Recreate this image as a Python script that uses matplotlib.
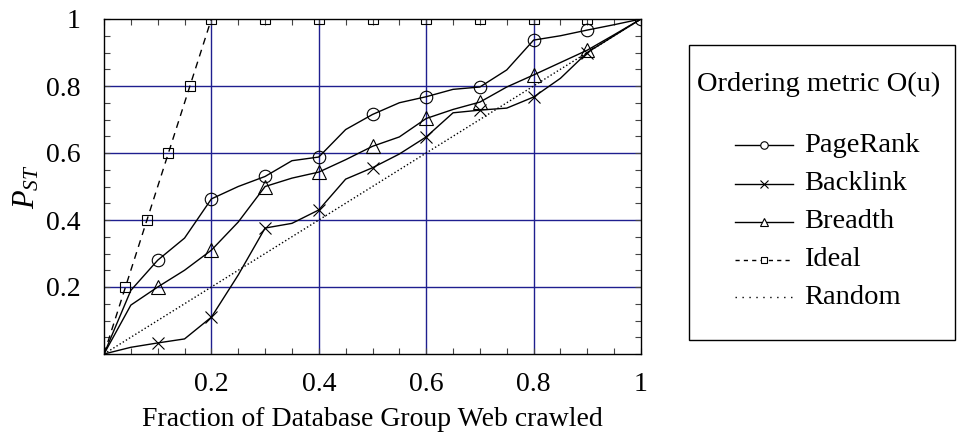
import matplotlib.pyplot as plt
from matplotlib.ticker import MultipleLocator, FixedLocator
from matplotlib.lines import Line2D
from matplotlib.patches import Rectangle

plt.rcParams['font.family'] = ['Liberation Serif', 'DejaVu Serif']
plt.rcParams['mathtext.fontset'] = 'custom'
plt.rcParams['mathtext.it'] = 'Liberation Serif:italic'
plt.rcParams['mathtext.rm'] = 'Liberation Serif'

# fraction of pages crawled (vertices every 0.05, markers every 0.1)
x_half = [0, 0.05, 0.1, 0.15, 0.2, 0.25, 0.3, 0.35, 0.4, 0.45, 0.5,
          0.55, 0.6, 0.65, 0.7, 0.75, 0.8, 0.85, 0.9, 0.95, 1.0]

pagerank = [0, 0.19, 0.28, 0.346, 0.463, 0.50, 0.53, 0.577, 0.588, 0.67, 0.715,
            0.75, 0.768, 0.79, 0.797, 0.848, 0.937, 0.95, 0.967, 0.983, 1.0]
backlink = [0, 0.02, 0.033, 0.045, 0.11, 0.236, 0.376, 0.39, 0.43, 0.522, 0.556,
            0.597, 0.648, 0.72, 0.728, 0.734, 0.767, 0.823, 0.90, 0.95, 1.0]
breadth = [0, 0.146, 0.2, 0.25, 0.31, 0.394, 0.50, 0.525, 0.543, 0.58, 0.62,
           0.648, 0.703, 0.73, 0.752, 0.797, 0.833, 0.87, 0.907, 0.953, 1.0]

ideal_x = [0, 0.04, 0.08, 0.12, 0.16, 0.2, 0.3, 0.4, 0.5, 0.6, 0.7, 0.8, 0.9]
ideal_y = [0, 0.2, 0.4, 0.6, 0.8, 1.0, 1.0, 1.0, 1.0, 1.0, 1.0, 1.0, 1.0]

random_x = [0, 1]
random_y = [0, 1]

series_names = ['PageRank', 'Backlink', 'Breadth', 'Ideal', 'Random']

W, H = 957, 441
fig = plt.figure(figsize=(W / 100, H / 100), dpi=100)
ax = fig.add_axes([104 / W, 1 - 354 / H, 537 / W, 335 / H])

grid_blue = '#1f1f8f'
for g in [0.2, 0.4, 0.6, 0.8]:
    ax.axhline(g, color=grid_blue, lw=1.0, zorder=1)
    ax.axvline(g, color=grid_blue, lw=1.0, zorder=1)

styles = {
    'PageRank': dict(ls='-', marker='o', ms=9),
    'Backlink': dict(ls='-', marker='x', ms=9),
    'Breadth': dict(ls='-', marker='^', ms=10),
    'Ideal': dict(ls='--', marker='s', ms=7),
    'Random': dict(ls=':', marker=None, ms=0),
}

def draw(x, y, name, markevery):
    st = styles[name]
    kw = dict(color='black', lw=1.0, zorder=3)
    if st['marker']:
        kw.update(marker=st['marker'], markevery=markevery, markersize=st['ms'],
                  markerfacecolor='none', markeredgecolor='black', markeredgewidth=0.8)
    line, = ax.plot(x, y, linestyle=st['ls'], **kw)
    if st['ls'] == '--':
        line.set_dashes((5, 4))
    return line

draw(x_half, pagerank, 'PageRank', list(range(2, 21, 2)))
draw(x_half, backlink, 'Backlink', list(range(2, 19, 2)))
draw(x_half, breadth, 'Breadth', list(range(2, 19, 2)))
draw(ideal_x, ideal_y, 'Ideal', list(range(1, len(ideal_x))))
draw(random_x, random_y, 'Random', None)

ax.set_xlim(0, 1)
ax.set_ylim(0, 1)
ax.xaxis.set_major_locator(FixedLocator([0.2, 0.4, 0.6, 0.8, 1.0]))
ax.yaxis.set_major_locator(FixedLocator([0.2, 0.4, 0.6, 0.8, 1.0]))
ax.set_xticklabels(['0.2', '0.4', '0.6', '0.8', '1'])
ax.set_yticklabels(['0.2', '0.4', '0.6', '0.8', '1'])
ax.xaxis.set_minor_locator(MultipleLocator(0.05))
ax.yaxis.set_minor_locator(MultipleLocator(0.05))
ax.tick_params(which='both', direction='in', top=True, right=True, labelsize=20,
               length=4, width=0.8, color='#444444')
ax.tick_params(axis='x', pad=13)
ax.tick_params(axis='y', pad=17)
for s in ax.spines.values():
    s.set_linewidth(1.0)
    s.set_zorder(4)

ax.set_xlabel('Fraction of Database Group Web crawled', fontsize=20, labelpad=7)
ax.set_ylabel(r'$P_{ST}$', fontsize=22, labelpad=3)

# legend box drawn in pixel coordinates of the figure
def px(x, y):
    return x / W, 1 - y / H

x0, y0 = px(689, 340)
x1, y1 = px(955, 45)
fig.patches.append(Rectangle((x0, y0), x1 - x0, y1 - y0, transform=fig.transFigure,
                             fill=False, edgecolor='black', lw=1.0))
tx, ty = px(697, 84)
fig.text(tx, ty, 'Ordering metric O(u)', fontsize=20.5, ha='left', va='center')

row_y = [145, 184, 222, 260, 297]
for name, ry in zip(series_names, row_y):
    st = styles[name]
    ax_x0, yy = px(735, ry)
    ax_x1, _ = px(793, ry)
    h = Line2D([ax_x0, ax_x1], [yy, yy], transform=fig.transFigure, color='black', lw=1.0,
               linestyle=st['ls'])
    if st['ls'] == '--':
        h.set_dashes((3, 3))
    elif st['ls'] == ':':
        h.set_dashes((1, 4))
    fig.lines.append(h)
    if st['marker']:
        mx, _ = px(764, ry)
        fig.lines.append(Line2D([mx], [yy], transform=fig.transFigure, marker=st['marker'],
                                markersize=st['ms'] * 0.6, markerfacecolor='white',
                                markeredgecolor='black', markeredgewidth=0.8, linestyle='none'))
    lx, _ = px(804, ry)
    fig.text(lx, yy, name, fontsize=20.5, ha='left', va='center')

fig.savefig('out.png', dpi=100)
